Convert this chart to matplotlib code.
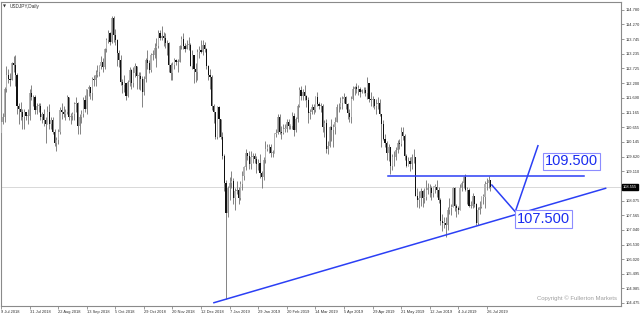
#!/usr/bin/env python3
"""USDJPY daily candles (Jul 2018 - Jul 2019) with trend annotations, MT4 style."""

import matplotlib
matplotlib.use("Agg")
import matplotlib.pyplot as plt
import numpy as np

# daily bars, 9 Jul 2018 .. 30 Jul 2019 (no bars on 25 Dec / 1 Jan)
first_open = 110.46
closes = [
    110.85, 111.00, 112.00, 112.50, 112.35, 112.30, 112.90, 112.85, 112.50, 111.40, 111.30, 111.20, 111.00, 111.20, 111.05, 111.05, 111.85,
    111.70, 111.70, 111.25, 111.40, 111.40, 111.00, 111.10, 110.90, 110.75, 111.20, 110.75, 110.90, 110.50, 110.10, 110.20, 110.50, 111.25, 111.20, 111.10, 111.20, 111.70, 111.00, 111.05,
    111.10, 111.45, 111.50, 110.70, 111.00, 111.10, 111.60, 111.30, 112.00, 112.05, 111.85, 112.35, 112.30, 112.50, 112.60, 112.80, 112.95, 112.75, 113.40, 113.70,
    113.95, 113.65, 114.50, 113.90, 113.70, 113.25, 113.00, 112.25, 112.15, 112.20, 111.75, 112.25, 112.65, 112.20, 112.55, 112.80, 112.45, 112.45, 112.35, 111.90, 112.35, 113.00, 112.90,
    112.65, 113.20, 113.20, 113.45, 113.50, 113.95, 113.80, 113.85, 113.80, 113.60, 113.60, 112.85, 112.55, 112.85, 113.00, 112.95, 112.95, 113.50, 113.75, 113.50, 113.40, 113.55,
    113.55, 112.80, 113.20, 112.70, 112.60, 113.30, 113.35, 113.30, 113.55, 113.40, 112.80, 112.50, 112.40, 111.40, 111.20, 110.30, 111.35, 110.95, 110.30, 109.65,
    108.70, 107.65, 108.50, 108.70, 108.75, 108.15, 108.40, 108.45, 108.15, 108.65, 108.95, 109.25, 109.75, 109.65, 109.35, 109.60, 109.65, 109.55, 109.35, 109.40, 109.05, 108.90,
    109.50, 109.90, 109.95, 109.95, 109.75, 109.75, 110.40, 110.45, 111.00, 110.50, 110.45, 110.60, 110.60, 110.85, 110.70, 110.70, 111.05, 110.55, 110.95, 111.40,
    111.95, 111.75, 111.90, 111.75, 111.60, 111.15, 111.20, 111.35, 111.25, 111.70, 111.45, 111.40, 111.40, 110.65, 110.80, 109.90, 110.00, 110.65, 110.55, 110.65, 110.85,
    111.35, 111.35, 111.50, 111.65, 111.70, 111.45, 111.15, 111.00, 111.65, 112.00, 112.05, 112.00, 112.00, 111.90, 111.95, 111.95, 111.85, 112.20, 111.65, 111.60, 111.65, 111.40,
    111.45, 111.50, 111.10, 110.75, 110.25, 110.10, 109.75, 109.95, 109.30, 109.60, 109.60, 109.85, 110.10, 110.05, 110.50, 110.35, 109.65, 109.30, 109.45, 109.35, 109.60, 109.60, 108.25,
    108.10, 108.15, 108.40, 108.15, 108.20, 108.45, 108.50, 108.50, 108.35, 108.55, 108.55, 108.45, 108.10, 107.35, 107.30, 107.30, 107.20, 107.75, 107.80, 107.85,
    108.50, 107.90, 107.80, 107.75, 108.50, 108.70, 108.90, 108.45, 108.45, 107.90, 107.90, 108.25, 107.95, 107.30, 107.75, 107.85, 108.20, 108.20, 108.65, 108.70, 108.80, 108.55,
]
highs = [
    111.00, 111.15, 112.08, 112.80, 112.70, 112.55, 112.95, 113.15, 113.18, 112.55, 111.50, 111.55, 111.30, 111.30, 111.20, 111.30, 112.00,
    112.15, 111.80, 111.80, 111.50, 111.50, 111.50, 111.20, 111.30, 111.00, 111.40, 111.45, 111.00, 111.00, 110.60, 110.30, 110.60, 111.35, 111.50, 111.40, 111.30, 111.80, 111.70, 111.15,
    111.20, 111.55, 111.70, 111.55, 111.10, 111.25, 111.70, 111.80, 112.00, 112.15, 112.05, 112.40, 112.50, 112.65, 112.85, 112.85, 113.15, 113.10, 113.45, 113.80,
    114.05, 114.00, 114.55, 114.55, 114.10, 113.75, 113.35, 113.20, 112.35, 112.50, 112.20, 112.30, 112.75, 112.70, 112.75, 112.90, 112.80, 112.60, 112.60, 112.45, 112.45, 113.10, 113.38,
    113.00, 113.25, 113.35, 113.60, 113.80, 114.05, 114.05, 114.21, 114.00, 113.95, 113.70, 113.65, 112.90, 112.95, 113.10, 113.05, 113.05, 113.55, 113.85, 113.95, 113.60, 113.70,
    113.83, 113.60, 113.35, 113.20, 112.90, 113.40, 113.50, 113.70, 113.70, 113.65, 113.45, 112.85, 112.70, 112.50, 111.45, 111.20, 111.40, 111.40, 110.90, 110.50,
    109.70, 108.80, 108.60, 108.90, 109.10, 108.85, 108.50, 108.75, 108.55, 108.75, 109.10, 109.30, 109.90, 109.75, 109.80, 109.80, 109.75, 109.75, 109.65, 109.55, 109.70, 109.10,
    109.60, 110.15, 110.05, 110.05, 110.05, 109.85, 110.45, 110.60, 111.12, 111.10, 110.70, 110.75, 110.75, 110.95, 110.95, 110.75, 111.20, 111.15, 111.00, 111.45,
    112.05, 112.10, 112.00, 112.15, 111.80, 111.70, 111.30, 111.45, 111.45, 111.75, 111.90, 111.55, 111.50, 111.45, 110.90, 110.95, 110.15, 110.70, 110.95, 110.75, 111.00,
    111.45, 111.50, 111.70, 111.75, 111.85, 111.75, 111.50, 111.30, 111.75, 112.10, 112.10, 112.20, 112.15, 112.05, 112.00, 112.05, 112.05, 112.40, 112.20, 111.90, 111.75, 111.60,
    111.65, 111.70, 111.65, 111.05, 110.90, 110.40, 110.15, 110.05, 109.95, 109.70, 109.80, 109.95, 110.20, 110.25, 110.65, 110.65, 110.40, 109.70, 109.60, 109.60, 109.70, 109.90, 109.55,
    108.50, 108.40, 108.50, 108.45, 108.50, 108.80, 108.70, 108.65, 108.60, 108.60, 108.65, 108.80, 108.55, 108.15, 107.60, 107.50, 107.50, 107.85, 108.15, 107.95,
    108.55, 108.55, 107.95, 107.90, 108.65, 108.75, 108.95, 108.99, 108.55, 108.50, 108.05, 108.35, 108.25, 108.00, 107.85, 108.05, 108.25, 108.30, 108.75, 108.85, 108.95, 108.75,
]
lows = [
    110.35, 110.75, 110.85, 111.90, 112.20, 112.10, 112.30, 112.60, 112.10, 111.10, 110.75, 110.90, 110.60, 110.60, 110.90, 110.75, 110.90,
    111.60, 111.40, 111.10, 111.10, 111.20, 110.90, 110.80, 110.70, 110.10, 110.80, 110.60, 110.60, 110.40, 110.00, 109.80, 110.05, 110.40, 110.95, 111.00, 110.90, 111.10, 110.90, 110.75,
    110.90, 110.90, 111.20, 110.40, 110.40, 110.80, 111.00, 111.20, 111.10, 111.75, 111.65, 111.60, 112.10, 112.10, 112.40, 112.45, 112.70, 112.60, 112.70, 113.30,
    113.60, 113.55, 113.60, 113.65, 113.55, 112.80, 112.75, 112.15, 111.85, 111.90, 111.60, 111.70, 112.10, 112.00, 112.05, 112.40, 112.00, 112.00, 111.95, 111.37, 111.80, 112.25, 112.70,
    112.55, 112.60, 113.00, 113.10, 112.75, 113.45, 113.70, 113.70, 113.50, 113.45, 113.20, 112.60, 112.30, 112.30, 112.70, 112.85, 112.60, 112.95, 113.40, 113.40, 113.30, 113.40,
    113.35, 112.80, 112.70, 112.22, 112.25, 112.30, 113.10, 113.25, 113.20, 113.30, 112.70, 112.30, 112.00, 111.25, 110.80, 110.25, 110.25, 110.30, 110.25, 109.55,
    108.40, 104.60, 107.50, 108.10, 108.50, 107.95, 107.75, 108.30, 107.95, 108.10, 108.45, 108.80, 109.15, 109.50, 109.20, 109.20, 109.40, 109.40, 109.05, 109.15, 108.85, 108.50,
    108.80, 109.40, 109.80, 109.75, 109.60, 109.60, 109.75, 110.30, 110.40, 110.40, 110.25, 110.40, 110.50, 110.50, 110.60, 110.60, 110.60, 110.35, 110.50, 110.85,
    111.35, 111.60, 111.60, 111.60, 111.35, 110.80, 110.95, 111.10, 111.10, 111.20, 111.40, 111.30, 111.20, 110.50, 110.30, 109.75, 109.70, 109.95, 110.15, 109.95, 110.40,
    110.85, 111.20, 111.30, 111.30, 111.50, 111.30, 110.95, 110.85, 110.80, 111.60, 111.80, 111.85, 111.80, 111.70, 111.85, 111.85, 111.75, 111.65, 111.55, 111.40, 111.35, 111.30,
    111.10, 111.30, 111.05, 109.95, 110.20, 109.95, 109.50, 109.45, 109.00, 109.15, 109.30, 109.50, 109.75, 109.90, 110.00, 110.20, 109.50, 109.25, 109.35, 109.10, 109.20, 109.40, 108.25,
    107.85, 107.80, 107.90, 107.85, 108.00, 108.10, 108.30, 108.20, 108.10, 108.20, 108.35, 108.20, 108.00, 107.20, 107.00, 107.10, 106.78, 107.05, 107.60, 107.55,
    107.85, 107.70, 107.50, 107.60, 107.75, 108.40, 108.50, 108.40, 107.95, 107.85, 107.80, 107.80, 107.85, 107.20, 107.20, 107.60, 107.80, 107.95, 107.80, 108.45, 108.50, 108.40,
]

date_labels = ["9 Jul 2018", "31 Jul 2018", "22 Aug 2018", "13 Sep 2018", "5 Oct 2018", "29 Oct 2018",
               "20 Nov 2018", "12 Dec 2018", "7 Jan 2019", "29 Jan 2019", "20 Feb 2019", "14 Mar 2019",
               "5 Apr 2019", "29 Apr 2019", "21 May 2019", "12 Jun 2019", "4 Jul 2019", "26 Jul 2019"]
price_ticks = [114.780, 114.270, 113.745, 113.235, 112.725, 112.200, 111.690, 111.165, 110.655, 110.145,
               109.620, 109.110, 108.075, 107.565, 107.040, 106.530, 106.020, 105.495, 104.985, 104.475]
last_price = 108.555

# drawn objects (bar index, price)
trend_pts = ([119.2, 338.5], [104.485, 108.505])
resist_pts = ([216.4, 326.4], [108.95, 108.95])
path_pts = ([274.8, 287.9, 300.6], [108.62, 107.68, 110.0])
target_hi = (304.5, 109.5)
target_lo = (287.9, 107.5)

BLUE = "#2b3ff5"
SMALL = dict(family="Liberation Sans", size=2.9)


def main():
    c = np.array(closes)
    o = np.array([first_open] + closes[:-1])
    h = np.maximum(np.array(highs), np.maximum(o, c))
    l = np.minimum(np.array(lows), np.minimum(o, c))
    x = np.arange(len(c))
    up = c >= o
    ylo, yhi = 104.387, 115.05

    fig = plt.figure(figsize=(6.4, 3.15), dpi=100)
    ax = fig.add_axes([1 / 640, 1 - 305.5 / 315, 620 / 640, 303.5 / 315])
    ax.set_xlim(0.73, 347.1)
    ax.set_ylim(ylo, yhi)

    ax.axhline(last_price, color="#d8d8d8", lw=0.7, zorder=1)

    ax.vlines(x, l, h, color="#7a7a7a", lw=0.65, zorder=2)
    body_lo = np.minimum(o, c)
    body_h = np.maximum(np.abs(c - o), 0.02)
    ax.bar(x[up], body_h[up], bottom=body_lo[up], width=0.66, color="#b0b0b0", lw=0, zorder=3)
    ax.bar(x[~up], body_h[~up], bottom=body_lo[~up], width=0.66, color="#111111", lw=0, zorder=3)

    ax.plot(*trend_pts, color=BLUE, lw=1.1, zorder=4)
    ax.plot(*resist_pts, color=BLUE, lw=1.1, zorder=4)
    ax.plot(*path_pts, color=BLUE, lw=1.1, zorder=4)

    box = dict(boxstyle="square,pad=0.12", fc="white", ec="#8c8cff", lw=0.8)
    ax.text(target_hi[0], target_hi[1] - 0.05, "109.500", color="#1a2cf0", fontsize=10.5,
            family="Liberation Sans", ha="left", va="center", bbox=box, zorder=5)
    ax.text(target_lo[0] + 0.8, target_lo[1] - 0.08, "107.500", color="#1a2cf0", fontsize=10.5,
            family="Liberation Sans", ha="left", va="center", bbox=box, zorder=5)

    ax.yaxis.tick_right()
    ax.set_yticks(price_ticks)
    ax.set_yticklabels([f"{v:.3f}" for v in price_ticks], fontdict=SMALL)
    ax.set_xticks(np.arange(len(date_labels)) * 16)
    ax.set_xticklabels(date_labels, ha="left", fontdict=SMALL)
    ax.tick_params(axis="both", direction="out", length=2.2, width=0.5, color="#707070",
                   labelcolor="#303030", pad=1.2)
    for sp in ax.spines.values():
        sp.set_color("#8a8a8a")
        sp.set_linewidth(0.8)

    ax.text(1.0035, (last_price - ylo) / (yhi - ylo), f"{last_price:.3f}",
            transform=ax.transAxes, color="white", ha="left", va="center",
            bbox=dict(boxstyle="square,pad=0.2", fc="black", ec="black"), zorder=6, **SMALL)

    ax.text(0.004, 0.985, "\u25bc", transform=ax.transAxes, fontsize=2.8, color="#303030", va="center")
    ax.text(0.014, 0.985, "USDJPY,Daily", transform=ax.transAxes, color="#303030", va="center",
            family="Liberation Sans", size=3.4)
    ax.text(0.9935, 0.024, "Copyright \u00a9 Fullerton Markets", transform=ax.transAxes,
            family="Liberation Sans", size=4.3, color="#a0a0a0", ha="right", va="center")

    fig.savefig("out.png", dpi=100, facecolor="white")
    plt.close(fig)


if __name__ == "__main__":
    main()
